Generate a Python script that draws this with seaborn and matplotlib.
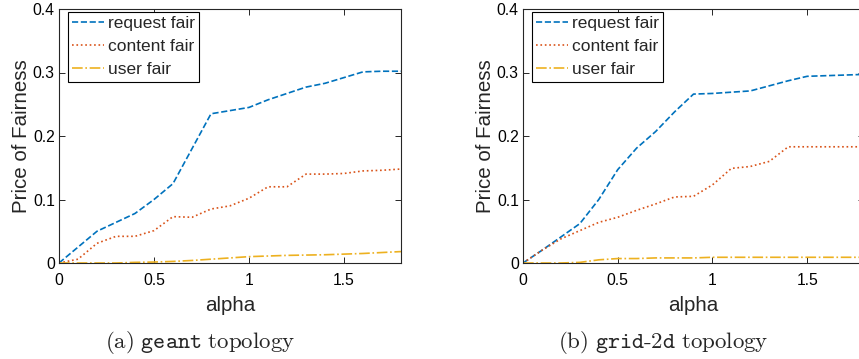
import numpy as np
import pandas as pd
import seaborn as sns
import matplotlib.pyplot as plt

# data
alpha = [0.0, 0.1, 0.2, 0.3, 0.4, 0.5, 0.6, 0.7, 0.8, 0.9,
         1.0, 1.1, 1.2, 1.3, 1.4, 1.5, 1.6, 1.7, 1.8]

geant_request = [0.0, 0.025, 0.05, 0.064, 0.078, 0.100, 0.125, 0.180, 0.235, 0.240,
                 0.245, 0.257, 0.267, 0.277, 0.283, 0.292, 0.301, 0.302, 0.302]
geant_content = [0.0, 0.006, 0.031, 0.042, 0.042, 0.051, 0.073, 0.072, 0.085, 0.090,
                 0.102, 0.120, 0.120, 0.140, 0.140, 0.141, 0.145, 0.146, 0.148]
geant_user = [0.0, 0.0, 0.0, 0.0, 0.001, 0.0015, 0.0025, 0.004, 0.006, 0.008,
              0.010, 0.011, 0.012, 0.0125, 0.013, 0.014, 0.015, 0.0165, 0.018]

grid_request = [0.0, 0.020, 0.041, 0.062, 0.100, 0.147, 0.181, 0.207, 0.238, 0.266,
                0.267, 0.269, 0.271, 0.279, 0.287, 0.294, 0.295, 0.296, 0.297]
grid_content = [0.0, 0.020, 0.038, 0.051, 0.064, 0.072, 0.083, 0.093, 0.104, 0.105,
                0.123, 0.149, 0.152, 0.160, 0.183, 0.183, 0.183, 0.183, 0.183]
grid_user = [0.0, 0.0, 0.0, 0.001, 0.005, 0.007, 0.007, 0.008, 0.008, 0.008,
             0.009, 0.009, 0.009, 0.009, 0.009, 0.009, 0.009, 0.009, 0.009]

labels = ["request fair", "content fair", "user fair"]
colors = ["#0072BD", "#D95319", "#EDB120"]
styles = ["--", ":", "-."]
captions = [r"$\mathrm{(a)\ }\mathtt{geant}\mathrm{\ topology}$",
            r"$\mathrm{(b)\ }\mathtt{grid}\text{-}\mathtt{2d}\mathrm{\ topology}$"]

sns.set_style("ticks")
plt.rcParams["font.family"] = ["Liberation Sans", "DejaVu Sans"]
plt.rcParams["mathtext.fontset"] = "cm"

fig = plt.figure(figsize=(8.59, 3.59), dpi=100)
W, H = 859, 359
ax1 = fig.add_axes([59 / W, (H - 263) / H, (401 - 59) / W, 254 / H])
ax2 = fig.add_axes([523 / W, (H - 263) / H, (864 - 523) / W, 254 / H])

panels = [(ax1, [geant_request, geant_content, geant_user]),
          (ax2, [grid_request, grid_content, grid_user])]

for ax, series in panels:
    for vals, lab, col, ls in zip(series, labels, colors, styles):
        sns.lineplot(x=alpha, y=vals, ax=ax, color=col, linestyle=ls,
                     linewidth=1.2, label=lab)
    ax.set_xlim(0, 1.8)
    ax.set_ylim(0, 0.4)
    ax.set_xticks([0, 0.5, 1, 1.5])
    ax.set_xticklabels(["0", "0.5", "1", "1.5"])
    ax.set_yticks([0, 0.1, 0.2, 0.3, 0.4])
    ax.set_yticklabels(["0", "0.1", "0.2", "0.3", "0.4"])
    ax.tick_params(direction="in", top=True, right=True, length=4,
                   width=0.7, labelsize=11.3, colors="#262626",
                   labelcolor="black")
    ax.tick_params(axis="x", pad=7)
    ax.tick_params(axis="y", pad=3)
    for s in ax.spines.values():
        s.set_linewidth(0.8)
        s.set_color("#262626")
    ax.set_xlabel("alpha", fontsize=14.8, labelpad=6)
    ax.set_ylabel("Price of Fairness", fontsize=14.8, labelpad=1.5)
    leg = ax.legend(loc="upper left", bbox_to_anchor=(9 / 342, 1 - 3 / 254),
                    borderaxespad=0, fontsize=12.5, frameon=True, fancybox=False,
                    framealpha=1, edgecolor="black", handlelength=1.8,
                    handletextpad=0.23, borderpad=0.25, labelspacing=0.45)
    leg.get_frame().set_linewidth(0.8)

fig.text(200.5 / W, (H - 342) / H, captions[0], fontsize=16.5, ha="center", va="center")
fig.text(663.5 / W, (H - 342) / H, captions[1], fontsize=16.5, ha="center", va="center")

fig.savefig("out.png", dpi=100)
